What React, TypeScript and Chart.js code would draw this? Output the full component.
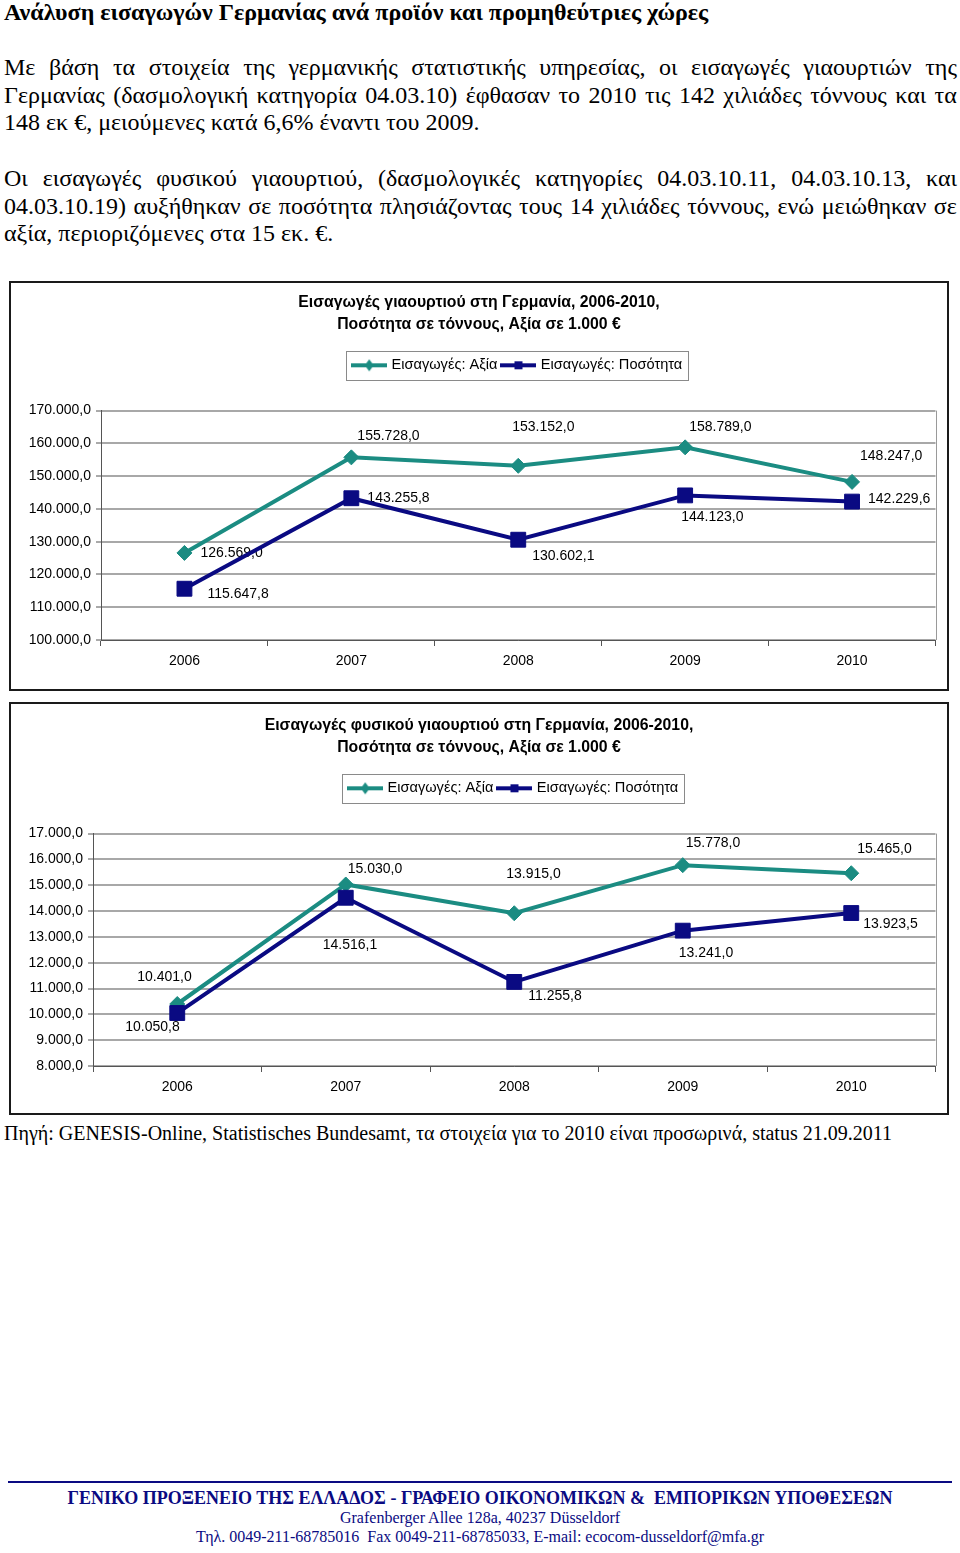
import React, { useEffect, useRef } from 'react';
import { Chart, registerables } from 'chart.js';

Chart.register(...registerables);

// ---------- data ----------
const YEARS = ['2006', '2007', '2008', '2009', '2010'];
const SERIES_NAMES = ['Εισαγωγές: Αξία', 'Εισαγωγές: Ποσότητα'];

const YOGURT_VALUE = [126569.0, 155728.0, 153152.0, 158789.0, 148247.0];
const YOGURT_QUANTITY = [115647.8, 143255.8, 130602.1, 144123.0, 142229.6];
const NATURAL_VALUE = [10401.0, 15030.0, 13915.0, 15778.0, 15465.0];
const NATURAL_QUANTITY = [10050.8, 14516.1, 11255.8, 13241.0, 13923.5];

const YOGURT_TITLE = ['Εισαγωγές γιαουρτιού στη Γερμανία, 2006-2010,', 'Ποσότητα σε τόννους, Αξία σε 1.000 €'];
const NATURAL_TITLE = ['Εισαγωγές φυσικού γιαουρτιού στη Γερμανία, 2006-2010,', 'Ποσότητα σε τόννους, Αξία σε 1.000 €'];

const YOGURT_Y_RANGE = [100000, 170000];
const YOGURT_Y_STEP = 10000;
const NATURAL_Y_RANGE = [8000, 17000];
const NATURAL_Y_STEP = 1000;

// ---------- document text ----------
const HEADING = 'Ανάλυση εισαγωγών Γερμανίας ανά προϊόν και προμηθεύτριες χώρες';
const PARA1 = [
  'Με βάση τα στοιχεία της γερμανικής στατιστικής υπηρεσίας, οι εισαγωγές γιαουρτιών της',
  'Γερμανίας (δασμολογική κατηγορία 04.03.10) έφθασαν το 2010 τις 142 χιλιάδες τόννους και τα',
  '148 εκ €, μειούμενες κατά 6,6% έναντι του 2009.',
];
const PARA2 = [
  'Οι εισαγωγές φυσικού γιαουρτιού, (δασμολογικές κατηγορίες 04.03.10.11, 04.03.10.13, και',
  '04.03.10.19) αυξήθηκαν σε ποσότητα πλησιάζοντας τους 14 χιλιάδες τόννους, ενώ μειώθηκαν σε',
  'αξία, περιοριζόμενες στα 15 εκ. €.',
];
const SOURCE = 'Πηγή: GENESIS-Online, Statistisches Bundesamt, τα στοιχεία για το 2010 είναι προσωρινά, status 21.09.2011';
const FOOTER = [
  'ΓΕΝΙΚΟ ΠΡΟΞΕΝΕΙΟ ΤΗΣ ΕΛΛΑΔΟΣ - ΓΡΑΦΕΙΟ ΟΙΚΟΝΟΜΙΚΩΝ &  ΕΜΠΟΡΙΚΩΝ ΥΠΟΘΕΣΕΩΝ',
  'Grafenberger Allee 128a, 40237 Düsseldorf',
  'Τηλ. 0049-211-68785016  Fax 0049-211-68785033, E-mail: ecocom-dusseldorf@mfa.gr',
];

// ---------- styles ----------
const TEAL = '#1b8c82';
const NAVY = '#0a0a82';
const SANS = "Arial, 'Liberation Sans', sans-serif";
const SERIF = "'Liberation Serif', 'Times New Roman', serif";

// label offsets (pixels, relative to point) for the data labels
const YOGURT_LABEL_OFFSETS = [
  [[16, 0], [6, -21], [-6, -39], [4, -20], [8, -26]],
  [[23, 5], [16, 0], [14, 16], [-4, 22], [16, -2]],
];
const NATURAL_LABEL_OFFSETS = [
  [[-40, -27], [2, -15], [-8, -39], [3, -22], [6, -24]],
  [[-52, 14], [-23, 47], [14, 14], [-4, 22], [12, 11]],
];

const fmt = (v: number) => {
  const [i, d] = Number(v).toFixed(1).split('.');
  return i.replace(/\B(?=(\d{3})+(?!\d))/g, '.') + ',' + d;
};

function makeSymbol(color: string, shape: 'diamond' | 'square') {
  const c = document.createElement('canvas');
  c.width = 36;
  c.height = 14;
  const g = c.getContext('2d')!;
  g.strokeStyle = color;
  g.lineWidth = 4;
  g.beginPath();
  g.moveTo(0, 7);
  g.lineTo(36, 7);
  g.stroke();
  g.fillStyle = color;
  if (shape === 'diamond') {
    g.beginPath();
    g.moveTo(18, 1);
    g.lineTo(22.5, 7);
    g.lineTo(18, 13);
    g.lineTo(13.5, 7);
    g.closePath();
    g.fill();
  } else {
    g.fillRect(14, 3, 8, 8);
  }
  return c;
}

type ChartProps = {
  title: string[];
  value: number[];
  quantity: number[];
  yRange: number[];
  yStep: number;
  offsets: number[][][];
  box: { left: number; top: number; width: number; height: number };
  pad: number;
  yWidth: number;
  xHeight: number;
  titleTop: number;
};

function LineChart(p: ChartProps) {
  const ref = useRef<HTMLCanvasElement | null>(null);
  const cw = p.box.width - 4;
  const ch = p.box.height - 4;

  useEffect(() => {
    const canvas = ref.current;
    if (!canvas) return;
    const symbols = [makeSymbol(TEAL, 'diamond'), makeSymbol(NAVY, 'square')];

    const legendGap = {
      id: 'legendGap',
      beforeInit(chart: any) {
        const lg = chart.legend;
        if (!lg) return;
        const orig = lg.fit;
        lg.fit = function () {
          orig.call(this);
          this.height += 28;
        };
      },
    };

    const legendBorder = {
      id: 'legendBorder',
      afterDraw(chart: any) {
        const hb = chart.legend && chart.legend.legendHitBoxes;
        if (!hb || !hb.length) return;
        const first = hb[0];
        const last = hb[hb.length - 1];
        const cy = first.top + first.height / 2;
        const left = Math.round(first.left - 8) + 0.5;
        const right = Math.round(last.left + last.width + 6) + 0.5;
        const top = Math.round(cy - 14.5) + 0.5;
        const ctx = chart.ctx;
        ctx.save();
        ctx.strokeStyle = '#8a8a8a';
        ctx.lineWidth = 1;
        ctx.strokeRect(left, top, right - left, 29);
        ctx.restore();
      },
    };

    const plotBorder = {
      id: 'plotBorder',
      beforeDatasetsDraw(chart: any) {
        const a = chart.chartArea;
        const ctx = chart.ctx;
        ctx.save();
        ctx.strokeStyle = '#9a9a9a';
        ctx.lineWidth = 1;
        ctx.beginPath();
        ctx.moveTo(Math.round(a.right) + 0.5, a.top);
        ctx.lineTo(Math.round(a.right) + 0.5, a.bottom);
        ctx.stroke();
        ctx.restore();
      },
    };

    const dataLabels = {
      id: 'dataLabels',
      beforeDatasetsDraw(chart: any) {
        const ctx = chart.ctx;
        ctx.save();
        ctx.font = `14px ${SANS}`;
        ctx.fillStyle = '#000';
        ctx.textAlign = 'left';
        ctx.textBaseline = 'middle';
        chart.data.datasets.forEach((ds: any, di: number) => {
          const meta = chart.getDatasetMeta(di);
          meta.data.forEach((pt: any, i: number) => {
            const o = p.offsets[di][i];
            ctx.fillText(fmt(ds.data[i]), pt.x + o[0], pt.y + o[1]);
          });
        });
        ctx.restore();
      },
    };

    const chart = new Chart(canvas, {
      type: 'line',
      data: {
        labels: YEARS,
        datasets: [
          {
            label: SERIES_NAMES[0],
            data: p.value,
            borderColor: TEAL,
            backgroundColor: TEAL,
            borderWidth: 4,
            pointStyle: 'rectRot',
            pointRadius: 7.5,
            pointBorderWidth: 1,
            pointBackgroundColor: TEAL,
            pointBorderColor: TEAL,
            tension: 0,
            order: 1,
          },
          {
            label: SERIES_NAMES[1],
            data: p.quantity,
            borderColor: NAVY,
            backgroundColor: NAVY,
            borderWidth: 4,
            pointStyle: 'rect',
            pointRadius: 10.5,
            pointBorderWidth: 1,
            pointBackgroundColor: NAVY,
            pointBorderColor: NAVY,
            tension: 0,
            order: 0,
          },
        ],
      },
      options: {
        responsive: false,
        animation: false,
        devicePixelRatio: 1,
        layout: { padding: { left: p.pad, right: p.pad, top: 0, bottom: 0 } },
        plugins: {
          title: {
            display: true,
            text: p.title,
            color: '#000',
            font: { family: SANS, size: 15.8, weight: 'bold', lineHeight: 22 / 15.8 },
            padding: { top: p.titleTop, bottom: 16 },
          },
          legend: {
            display: true,
            position: 'top',
            fullSize: false,
            align: 'center',
            labels: {
              usePointStyle: true,
              pointStyleWidth: 30,
              padding: 6,
              color: '#000',
              font: { family: SANS, size: 14.6 },
              generateLabels: (c: any) =>
                c.data.datasets.map((ds: any, i: number) => ({
                  text: ds.label,
                  pointStyle: symbols[i],
                  fillStyle: ds.borderColor,
                  strokeStyle: ds.borderColor,
                  lineWidth: 0,
                  hidden: false,
                  datasetIndex: i,
                  fontColor: '#000',
                })),
            },
          },
          tooltip: { enabled: false },
        },
        scales: {
          x: {
            type: 'category',
            offset: true,
            grid: {
              display: true,
              offset: true,
              drawOnChartArea: false,
              drawTicks: true,
              tickLength: 6,
              tickColor: '#555',
            },
            border: { display: true, color: '#555', width: 1 },
            ticks: { color: '#000', font: { family: SANS, size: 14 }, padding: 7, maxRotation: 0, autoSkip: false },
            afterFit: (s: any) => {
              s.height = p.xHeight;
            },
          },
          y: {
            min: p.yRange[0],
            max: p.yRange[1],
            ticks: {
              stepSize: p.yStep,
              color: '#000',
              font: { family: SANS, size: 14 },
              padding: 5,
              callback: (v: any) => fmt(v),
            },
            grid: {
              color: '#a8a8a8',
              lineWidth: 2,
              drawTicks: true,
              tickLength: 5,
              tickColor: '#555',
              tickWidth: 1,
            },
            border: { display: true, color: '#555', width: 1 },
            afterFit: (s: any) => {
              s.width = p.yWidth;
            },
          },
        },
      },
      plugins: [legendGap, legendBorder, plotBorder, dataLabels],
    } as any);

    return () => chart.destroy();
  }, []);

  return (
    <div
      style={{
        position: 'absolute',
        left: p.box.left,
        top: p.box.top,
        width: p.box.width,
        height: p.box.height,
        border: '2px solid #1a1a1a',
        boxSizing: 'border-box',
        background: '#fff',
      }}
    >
      <canvas ref={ref} width={cw} height={ch} style={{ display: 'block', width: cw, height: ch }} />
    </div>
  );
}

function TextLine(props: {
  text: string;
  cy: number;
  size: number;
  justify?: boolean;
  bold?: boolean;
  color?: string;
  left?: number;
  width?: number;
  center?: boolean;
}) {
  const lh = Math.round(props.size * 1.2);
  const base: React.CSSProperties = {
    position: 'absolute',
    left: props.left ?? 4,
    width: props.width ?? 953,
    top: props.cy - lh / 2,
    height: lh,
    lineHeight: `${lh}px`,
    fontFamily: SERIF,
    fontSize: props.size,
    fontWeight: props.bold ? 'bold' : 'normal',
    color: props.color ?? '#000',
    whiteSpace: 'pre',
    textAlign: props.center ? 'center' : 'left',
  };
  if (props.justify) {
    const words = props.text.split(' ');
    return (
      <div style={{ ...base, display: 'flex', justifyContent: 'space-between' }}>
        {words.map((w, i) => (
          <span key={i}>{w}</span>
        ))}
      </div>
    );
  }
  return <div style={base}>{props.text}</div>;
}

export default function App() {
  useEffect(() => {
    document.body.style.margin = '0';
  }, []);
  const P1Y = [67, 95, 122];
  const P2Y = [178, 206, 233];
  return (
    <div style={{ position: 'absolute', left: 0, top: 0, width: 960, height: 1553, background: '#fff' }}>
      <TextLine text={HEADING} cy={12} size={24} bold />
      {PARA1.map((t, i) => (
        <TextLine key={'a' + i} text={t} cy={P1Y[i]} size={24} justify={i < PARA1.length - 1} />
      ))}
      {PARA2.map((t, i) => (
        <TextLine key={'b' + i} text={t} cy={P2Y[i]} size={24} justify={i < PARA2.length - 1} />
      ))}

      <LineChart
        title={YOGURT_TITLE}
        value={YOGURT_VALUE}
        quantity={YOGURT_QUANTITY}
        yRange={YOGURT_Y_RANGE}
        yStep={YOGURT_Y_STEP}
        offsets={YOGURT_LABEL_OFFSETS}
        box={{ left: 9, top: 281, width: 940, height: 410 }}
        pad={11}
        yWidth={79}
        xHeight={49}
        titleTop={9}
      />
      <LineChart
        title={NATURAL_TITLE}
        value={NATURAL_VALUE}
        quantity={NATURAL_QUANTITY}
        yRange={NATURAL_Y_RANGE}
        yStep={NATURAL_Y_STEP}
        offsets={NATURAL_LABEL_OFFSETS}
        box={{ left: 9, top: 702, width: 940, height: 413 }}
        pad={10}
        yWidth={72}
        xHeight={47}
        titleTop={11}
      />

      <TextLine text={SOURCE} cy={1133} size={20} />

      <div style={{ position: 'absolute', left: 8, top: 1481, width: 944, height: 2, background: NAVY }} />
      <TextLine text={FOOTER[0]} cy={1498} size={18} bold color={NAVY} left={0} width={960} center />
      <TextLine text={FOOTER[1]} cy={1517} size={16} color={NAVY} left={0} width={960} center />
      <TextLine text={FOOTER[2]} cy={1536} size={16} color={NAVY} left={0} width={960} center />
    </div>
  );
}
